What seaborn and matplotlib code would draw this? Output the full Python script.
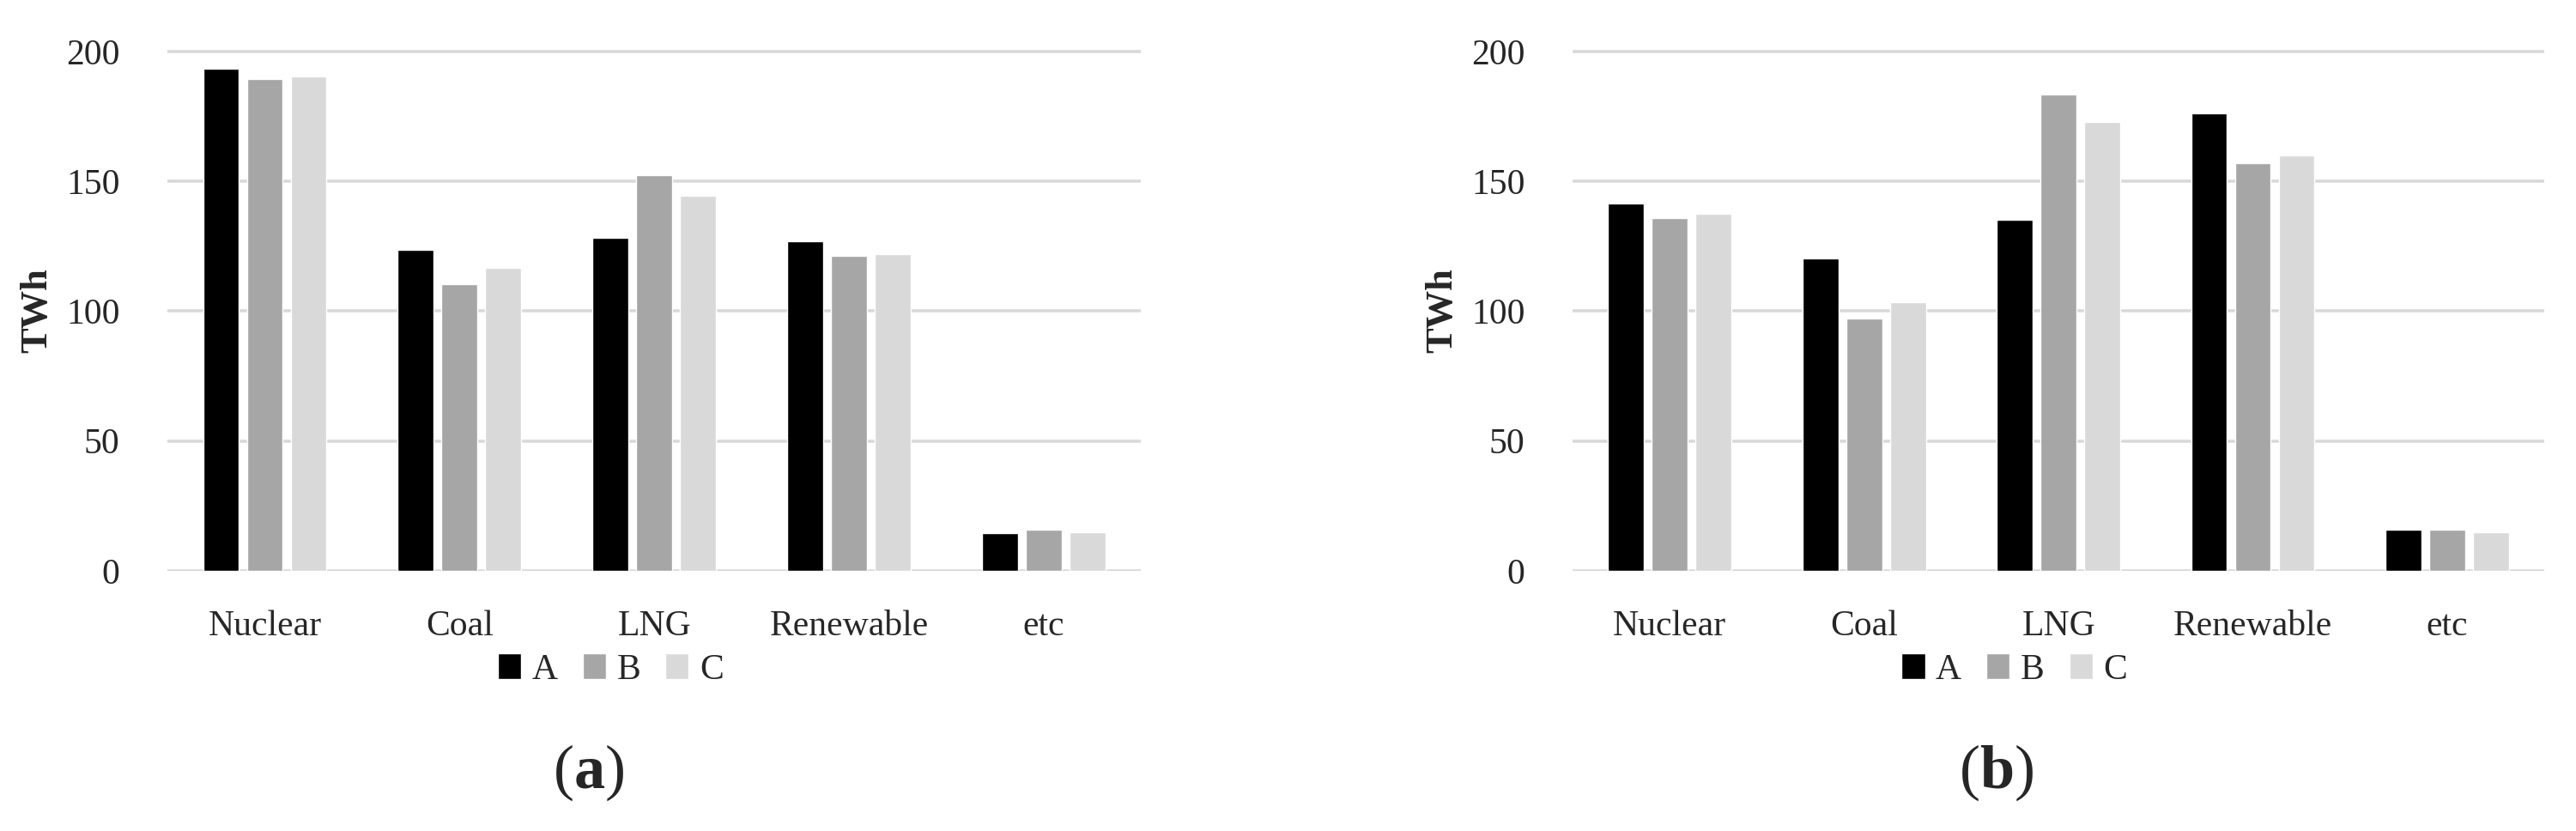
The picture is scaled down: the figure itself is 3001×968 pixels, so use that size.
import pandas as pd
import matplotlib
matplotlib.use("Agg")
import matplotlib.pyplot as plt
import seaborn as sns

sources = ["Nuclear", "Coal", "LNG", "Renewable", "etc"]
scenarios = ["A", "B", "C"]

# values, TWh
a_A = [193.3, 123.7, 128.3, 126.8, 14.4]
a_B = [189.5, 110.4, 152.3, 121.3, 15.9]
a_C = [190.4, 116.6, 144.6, 122.1, 15.0]

b_A = [141.6, 120.4, 135.3, 176.3, 15.9]
b_B = [136.0, 97.2, 183.4, 156.9, 15.9]
b_C = [137.6, 103.3, 173.0, 160.0, 15.0]

panelLabels = [r"($\mathbf{a}$)", r"($\mathbf{b}$)"]
yTicks = [0, 50, 100, 150, 200]
colors = ["#000000", "#a6a6a6", "#d9d9d9"]


def makeFrame(seriesA, seriesB, seriesC):
    rows = []
    for name, values in zip(scenarios, [seriesA, seriesB, seriesC]):
        for source, value in zip(sources, values):
            rows.append({"source": source, "scenario": name, "TWh": value})
    return pd.DataFrame(rows)


frames = [makeFrame(a_A, a_B, a_C), makeFrame(b_A, b_B, b_C)]

sns.set_style("white")
plt.rcParams["font.family"] = ["Liberation Serif", "DejaVu Serif"]
plt.rcParams["mathtext.fontset"] = "custom"
plt.rcParams["mathtext.rm"] = "Liberation Serif"
plt.rcParams["mathtext.bf"] = "Liberation Serif:bold"

fig = plt.figure(figsize=(30.01, 9.68), dpi=100)
axesBoxes = [[0.065, 0.313, 0.378, 0.627], [0.6105, 0.313, 0.3772, 0.627]]
legendCenters = [(0.237, 0.194), (0.782, 0.194)]
labelCenters = [(0.2286, 0.070), (0.775, 0.070)]

for i, data in enumerate(frames):
    ax = fig.add_axes(axesBoxes[i])
    sns.barplot(data=data, x="source", y="TWh", hue="scenario",
                palette=colors, width=0.675, gap=0.18, saturation=1,
                errorbar=None, ax=ax)
    ax.set_ylim(0, 200.6)
    ax.set_yticks(yTicks)
    ax.yaxis.grid(True, color="#d9d9d9", linewidth=2.6)
    ax.set_axisbelow(True)
    sns.despine(ax=ax, left=True, bottom=True)
    ax.tick_params(axis="x", length=0, pad=33, labelsize=30)
    ax.tick_params(axis="y", length=0, pad=40, labelsize=30)
    ax.set_xlabel("")
    ax.set_ylabel("TWh", fontsize=32, fontweight="bold", labelpad=10)
    sns.move_legend(ax, loc="center", bbox_to_anchor=legendCenters[i],
                    bbox_transform=fig.transFigure, ncol=3, frameon=False,
                    title=None, fontsize=30, handlelength=0.65,
                    handleheight=0.75, handletextpad=0.3, columnspacing=0.7)
    fig.text(labelCenters[i][0], labelCenters[i][1], panelLabels[i],
             ha="center", va="center", fontsize=52)

fig.savefig("out.png", dpi=100)
